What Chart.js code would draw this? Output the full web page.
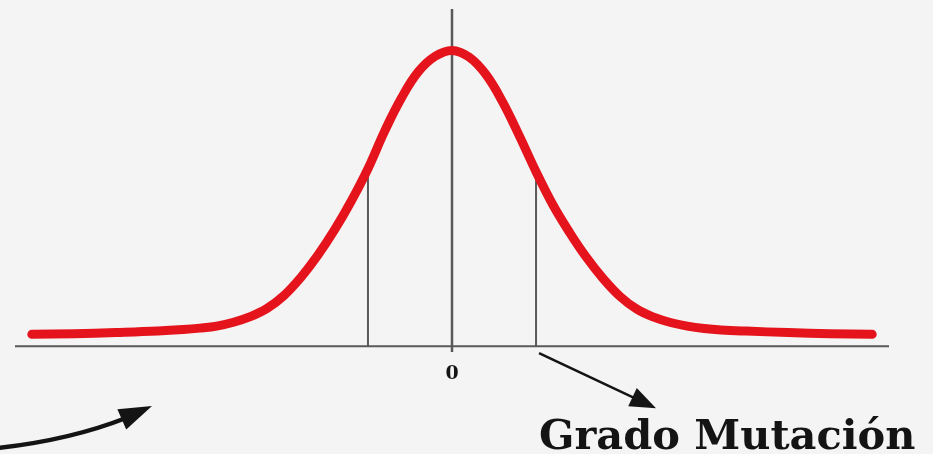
<!DOCTYPE html>
<html lang="es">
<head>
  <meta charset="UTF-8" />
  <title>Grado Mutación</title>
  <script src="https://cdn.jsdelivr.net/npm/chart.js"></script>
  <style>
    html, body {
      margin: 0;
      padding: 0;
      background-color: #f4f4f4;
      overflow: hidden;
    }

    .chart-wrapper {
      position: relative;
      width: 933px;
      height: 454px;
    }
  </style>
</head>
<body>

  <div class="chart-wrapper">
    <canvas id="bellChart"></canvas>
  </div>

  <script>
    // Curva de distribución (x en desviaciones, y relativo al pico)
    const curveX = [-5, -4.5, -4, -3.5, -3.2, -3, -2.8, -2.6, -2.4, -2.2, -2, -1.8, -1.6, -1.4, -1.2, -1, -0.8, -0.6, -0.4, -0.2, 0,
                    0.2, 0.4, 0.6, 0.8, 1, 1.2, 1.4, 1.6, 1.8, 2, 2.2, 2.4, 2.6, 2.8, 3, 3.2, 3.5, 4, 4.5, 5];
    const curveY = [0.040, 0.042, 0.046, 0.051, 0.056, 0.061, 0.068, 0.081, 0.100, 0.128, 0.171, 0.232, 0.306, 0.392, 0.490, 0.600, 0.728, 0.840, 0.928, 0.980, 1.0,
                    0.978, 0.920, 0.827, 0.712, 0.590, 0.478, 0.384, 0.300, 0.228, 0.168, 0.125, 0.098, 0.080, 0.068, 0.060, 0.055, 0.051, 0.046, 0.042, 0.040];

    // Líneas verticales bajo la curva
    const markerX = [-1, 1];
    const markerTop = [0.600, 0.590];

    // Ejes
    const axisX = [-5.2, 5.2];
    const axisY = [-0.02, 1.14];
    const tickLabels = ['0'];
    const axisTitle = 'Grado Mutación';

    const axisColor = '#595959';

    const datasets = [];

    // curva roja
    datasets.push({
      data: curveX.map((x, i) => ({ x: x, y: curveY[i] })),
      borderColor: '#e5141c',
      borderWidth: 9,
      borderCapStyle: 'round',
      borderJoinStyle: 'round',
      tension: 0.4,
      pointRadius: 0,
      order: 0
    });

    // eje horizontal
    datasets.push({
      data: axisX.map(x => ({ x: x, y: 0 })),
      borderColor: axisColor,
      borderWidth: 2,
      pointRadius: 0,
      order: 2
    });

    // eje vertical
    datasets.push({
      data: axisY.map(y => ({ x: 0, y: y })),
      borderColor: axisColor,
      borderWidth: 2.5,
      pointRadius: 0,
      order: 2
    });

    markerX.forEach((mx, i) => {
      datasets.push({
        data: [{ x: mx, y: 0 }, { x: mx, y: markerTop[i] }],
        borderColor: axisColor,
        borderWidth: 2,
        pointRadius: 0,
        order: 1
      });
    });

    function arrowHead(ctx, fromX, fromY, toX, toY, len, half) {
      const ang = Math.atan2(toY - fromY, toX - fromX);
      ctx.beginPath();
      ctx.moveTo(toX, toY);
      ctx.lineTo(toX - len * Math.cos(ang) + half * Math.sin(ang), toY - len * Math.sin(ang) - half * Math.cos(ang));
      ctx.lineTo(toX - len * Math.cos(ang) - half * Math.sin(ang), toY - len * Math.sin(ang) + half * Math.cos(ang));
      ctx.closePath();
      ctx.fill();
    }

    // etiquetas y flechas
    const annotations = {
      id: 'annotations',
      afterDraw(chart) {
        const ctx = chart.ctx;
        const xs = chart.scales.x;
        const ys = chart.scales.y;
        const zeroY = ys.getPixelForValue(0);

        ctx.save();
        ctx.fillStyle = '#141414';
        ctx.strokeStyle = '#141414';

        ctx.font = 'bold 19px "DejaVu Serif"';
        ctx.textAlign = 'center';
        ctx.textBaseline = 'alphabetic';
        tickLabels.forEach(t => ctx.fillText(t, xs.getPixelForValue(Number(t)), zeroY + 33));

        // flecha recta hacia el título
        const sx = xs.getPixelForValue(markerX[1]) + 3;
        const sy = zeroY + 7;
        const ex = sx + 117;
        const ey = sy + 55;
        ctx.lineWidth = 2.5;
        ctx.beginPath();
        ctx.moveTo(sx, sy);
        ctx.lineTo(ex - 14, ey - 6.6);
        ctx.stroke();
        arrowHead(ctx, sx, sy, ex, ey, 26, 10);

        // flecha curva inferior izquierda
        ctx.lineWidth = 4.5;
        ctx.beginPath();
        ctx.moveTo(-2, 448);
        ctx.quadraticCurveTo(70, 440, 126, 418);
        ctx.stroke();
        arrowHead(ctx, 118, 421, 152, 406, 33, 11);

        ctx.font = 'bold 41.5px "DejaVu Serif"';
        ctx.textAlign = 'left';
        ctx.fillText(axisTitle, 539, 449);
        ctx.restore();
      }
    };

    new Chart(document.getElementById('bellChart'), {
      type: 'line',
      data: { datasets: datasets },
      options: {
        responsive: true,
        maintainAspectRatio: false,
        animation: false,
        layout: { padding: { left: 15, right: 44, top: 9, bottom: 96 } },
        scales: {
          x: { type: 'linear', min: -5.2, max: 5.2, display: false },
          y: { min: -0.04, max: 1.14, display: false }
        },
        plugins: {
          legend: { display: false },
          tooltip: { enabled: false }
        }
      },
      plugins: [annotations]
    });
  </script>
</body>
</html>
